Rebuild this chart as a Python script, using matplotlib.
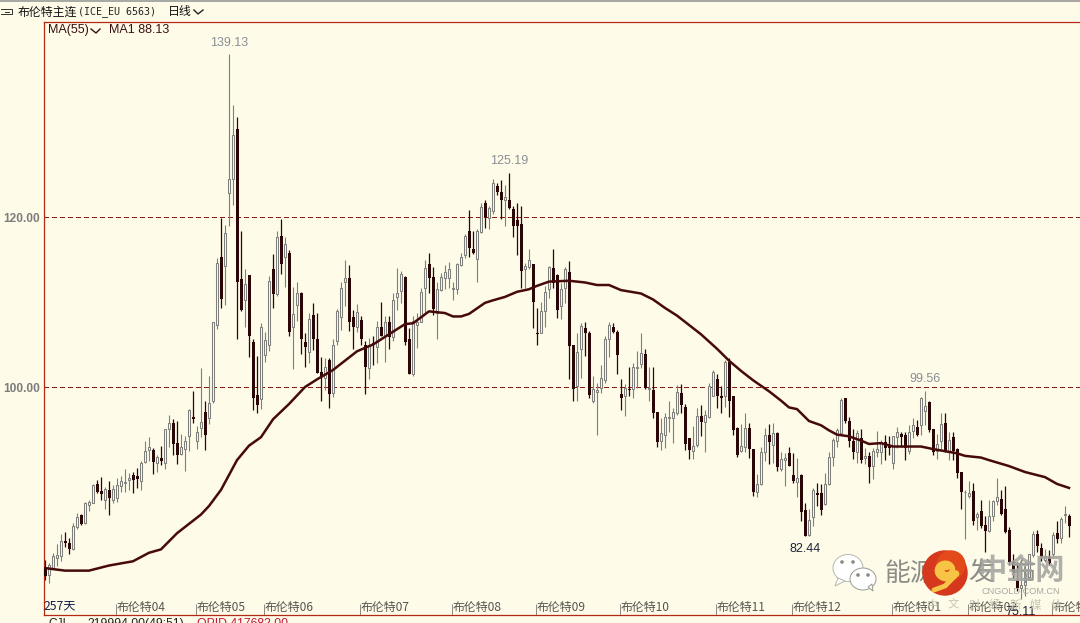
import numpy as np
import matplotlib
matplotlib.use('Agg')
import matplotlib.pyplot as plt
from matplotlib.patches import Circle, Ellipse, Polygon, Rectangle

# daily candles
opens = [
    78.7, 77.9, 78.7, 79.9, 80.1, 81.9, 81.6, 80.9, 83.5, 84.9,
    84.0, 86.1, 86.4, 88.6, 87.8, 86.7, 87.9, 86.7, 86.9, 88.4,
    88.7, 89.1, 89.6, 89.5, 89.0, 91.2, 92.6, 92.6, 91.1, 91.6,
    91.1, 95.1, 95.8, 93.4, 92.1, 92.7, 94.2, 96.5, 93.6, 95.2,
    97.1, 96.3, 98.3, 107.3, 115.3, 114.2, 122.8, 124.5, 130.4, 112.7,
    110.2, 113.2, 105.3, 99.1, 98.6, 103.8, 104.9, 113.9, 110.9, 117.8,
    115.3, 115.8, 107.1, 109.6, 111.1, 105.3, 104.1, 108.5, 105.6, 101.8,
    101.1, 103.2, 99.3, 105.4, 108.2, 112.3, 112.8, 108.2, 107.1, 107.9,
    105.0, 102.2, 105.2, 104.7, 107.1, 106.0, 107.6, 105.9, 110.6, 111.3,
    112.9, 105.6, 101.5, 107.3, 107.7, 111.6, 114.5, 112.9, 108.7, 111.4,
    112.8, 112.8, 111.5, 111.5, 114.3, 115.5, 118.3, 116.2, 115.1, 118.2,
    121.6, 119.9, 120.7, 123.7, 123.0, 122.0, 122.0, 120.9, 119.7, 119.2,
    113.9, 114.1, 114.5, 106.4, 106.3, 109.0, 111.5, 114.0, 113.2, 109.5,
    111.6, 113.5, 104.9, 100.1, 104.5, 106.9, 106.3, 98.4, 99.4, 99.9,
    100.8, 105.7, 107.1, 106.5, 99.2, 98.9, 99.8, 99.8, 102.2, 102.7,
    103.9, 99.8, 99.7, 97.1, 93.6, 94.4, 96.3, 96.3, 97.0, 99.3,
    97.6, 94.0, 92.5, 93.2, 96.6, 95.9, 96.5, 99.0, 100.9, 99.0,
    98.9, 103.0, 98.9, 95.2, 92.5, 92.9, 95.2, 92.7, 87.6, 88.6,
    92.4, 94.3, 93.2, 94.6, 90.4, 91.4, 92.2, 89.6, 88.8, 89.6,
    85.5, 82.6, 84.7, 87.5, 87.5, 86.2, 88.6, 91.8, 93.6, 94.6,
    98.7, 96.0, 93.7, 92.4, 94.0, 91.6, 91.9, 90.7, 92.3, 92.3,
    93.5, 93.2, 91.1, 94.1, 94.5, 94.3, 92.5, 94.8, 95.3, 95.5,
    97.2, 98.2, 95.1, 92.5, 93.6, 95.8, 92.4, 94.1, 92.7, 90.0,
    87.6, 87.2, 87.8, 84.7, 85.4, 83.8, 83.1, 84.8, 86.6, 86.8,
    85.6, 83.2, 79.4, 77.3, 76.4, 76.7, 77.7, 80.2, 82.7, 81.1,
    79.6, 80.0, 80.4, 82.8, 82.2, 84.9, 84.8,
]
highs = [
    79.6, 79.3, 80.5, 81.5, 82.7, 82.9, 82.2, 84.0, 85.2, 85.1,
    86.5, 86.7, 88.6, 89.1, 89.4, 88.2, 88.9, 88.5, 89.3, 89.5,
    90.3, 89.9, 90.0, 90.5, 91.3, 93.7, 94.1, 92.8, 92.0, 93.1,
    95.1, 96.7, 96.2, 96.0, 94.5, 94.2, 97.4, 99.5, 95.4, 102.2,
    98.4, 101.3, 107.7, 115.2, 119.9, 119.1, 139.13, 133.2, 131.8, 118.3,
    113.9, 113.2, 105.6, 103.7, 107.5, 106.5, 113.1, 115.6, 118.3, 119.8,
    117.7, 116.1, 111.8, 112.4, 111.2, 106.3, 108.7, 109.9, 108.7, 103.5,
    103.4, 103.4, 105.7, 109.2, 112.4, 114.9, 114.3, 109.1, 109.8, 108.4,
    105.4, 105.8, 106.0, 107.8, 110.0, 108.3, 108.4, 111.1, 114.0, 113.6,
    113.1, 106.9, 108.3, 108.7, 111.6, 114.9, 115.8, 114.1, 112.4, 113.4,
    114.4, 114.7, 112.4, 114.6, 115.8, 118.0, 120.8, 118.4, 118.6, 121.6,
    122.0, 121.3, 124.5, 124.0, 124.4, 123.8, 125.19, 121.3, 121.6, 121.3,
    114.6, 116.2, 114.5, 109.3, 110.0, 111.9, 114.2, 116.2, 113.3, 112.2,
    114.1, 114.8, 104.9, 106.4, 107.5, 107.6, 106.6, 101.3, 100.5, 102.6,
    106.0, 107.7, 107.5, 106.7, 100.9, 100.3, 102.4, 102.8, 104.2, 106.4,
    104.5, 102.4, 102.4, 97.1, 96.4, 96.9, 98.4, 97.5, 100.2, 100.4,
    98.0, 94.0, 95.4, 97.5, 97.9, 97.3, 100.5, 102.0, 101.5, 100.1,
    103.2, 103.4, 98.9, 95.3, 95.6, 96.9, 95.8, 92.7, 89.8, 93.0,
    95.2, 95.6, 95.8, 94.7, 92.4, 92.2, 93.0, 92.2, 91.6, 89.8,
    86.4, 85.6, 88.1, 88.7, 88.6, 89.9, 92.3, 94.0, 95.2, 98.7,
    98.7, 96.5, 95.1, 94.9, 95.1, 92.8, 92.4, 92.8, 94.8, 93.8,
    94.4, 94.2, 94.2, 95.3, 94.7, 94.7, 95.5, 96.4, 96.1, 98.8,
    99.56, 98.3, 95.1, 94.5, 96.9, 96.9, 94.7, 94.7, 92.8, 90.0,
    87.9, 89.0, 88.7, 85.3, 86.7, 84.8, 86.7, 86.7, 89.3, 87.9,
    88.3, 83.5, 80.4, 79.4, 78.9, 79.5, 80.4, 83.1, 83.2, 81.6,
    81.0, 80.8, 82.9, 84.2, 84.7, 86.0, 85.1,
]
lows = [
    77.3, 76.9, 78.6, 78.9, 79.5, 81.2, 80.3, 80.8, 83.3, 83.8,
    83.9, 85.4, 86.3, 87.5, 86.7, 85.6, 84.9, 86.4, 86.5, 87.7,
    87.6, 87.9, 87.5, 88.1, 87.9, 91.1, 91.3, 89.8, 90.0, 90.8,
    90.4, 93.0, 92.0, 90.9, 92.0, 90.1, 92.5, 95.8, 92.7, 94.1,
    92.6, 95.6, 98.1, 106.8, 109.3, 109.6, 119.0, 121.4, 105.6, 109.0,
    107.1, 103.5, 97.3, 96.9, 97.4, 102.9, 104.2, 109.3, 110.7, 113.3,
    111.8, 106.0, 102.1, 107.8, 103.9, 102.3, 102.8, 104.4, 101.6, 98.3,
    99.6, 97.5, 98.8, 105.0, 106.7, 109.5, 106.6, 104.5, 106.5, 105.0,
    99.2, 100.9, 102.6, 102.8, 106.0, 103.0, 104.5, 105.4, 109.1, 109.9,
    104.9, 101.5, 101.3, 104.6, 107.6, 108.7, 111.1, 108.5, 105.6, 111.3,
    111.5, 111.6, 110.2, 110.9, 114.2, 115.2, 115.3, 115.7, 112.4, 118.1,
    118.7, 118.6, 120.3, 122.6, 119.8, 118.9, 120.9, 117.7, 115.5, 111.6,
    111.6, 113.9, 106.9, 105.0, 106.3, 107.1, 110.5, 111.6, 108.1, 108.0,
    109.9, 101.0, 98.4, 98.4, 101.1, 103.6, 98.7, 98.1, 94.4, 99.3,
    100.5, 103.5, 106.3, 101.5, 97.3, 96.6, 98.9, 98.7, 99.9, 102.2,
    99.8, 98.4, 96.4, 93.0, 92.6, 92.8, 94.7, 93.4, 96.7, 96.9,
    92.6, 91.5, 91.5, 93.0, 94.2, 92.3, 96.4, 98.9, 97.5, 96.9,
    97.7, 96.5, 94.3, 91.8, 92.4, 92.4, 91.6, 87.2, 87.1, 88.5,
    91.3, 90.9, 91.1, 90.1, 90.1, 88.4, 90.7, 88.7, 87.1, 84.2,
    82.44, 82.5, 83.6, 86.0, 84.9, 86.1, 88.5, 90.7, 93.0, 94.4,
    95.8, 92.9, 91.5, 91.1, 91.1, 90.9, 88.7, 89.2, 91.8, 90.9,
    91.4, 92.0, 90.3, 92.8, 93.0, 91.4, 92.1, 94.0, 94.2, 94.4,
    95.5, 94.7, 92.0, 91.5, 92.6, 92.3, 91.4, 91.4, 89.3, 85.6,
    82.1, 87.0, 83.8, 83.2, 83.4, 80.6, 83.0, 84.2, 86.1, 84.9,
    82.8, 79.1, 77.5, 76.0, 75.11, 75.4, 77.4, 80.0, 80.6, 79.5,
    79.4, 79.1, 80.0, 81.6, 81.7, 84.0, 82.4,
]
closes = [
    77.8, 79.1, 80.1, 80.2, 81.9, 81.7, 80.9, 83.7, 84.7, 83.9,
    86.4, 86.5, 88.5, 87.6, 87.4, 88.0, 87.0, 88.0, 88.5, 88.9,
    88.8, 89.3, 89.1, 89.2, 91.1, 92.5, 92.9, 91.2, 91.8, 91.3,
    95.1, 95.8, 93.3, 92.0, 92.9, 93.6, 97.3, 96.2, 94.7, 95.9,
    94.4, 98.1, 107.6, 114.6, 110.4, 118.1, 124.5, 129.6, 112.4, 109.1,
    112.1, 106.0, 98.7, 97.9, 107.1, 105.5, 112.5, 110.9, 117.6, 114.5,
    116.8, 106.5, 108.6, 111.1, 105.6, 104.7, 108.0, 105.6, 101.6, 101.3,
    102.4, 99.2, 105.0, 109.0, 111.7, 112.8, 107.6, 107.1, 108.8, 105.7,
    102.4, 104.9, 105.0, 107.1, 106.0, 107.6, 105.9, 110.2, 111.1, 113.3,
    105.3, 101.5, 107.8, 107.7, 111.2, 114.0, 112.8, 109.2, 111.5, 112.9,
    113.5, 113.9, 111.6, 114.5, 115.3, 117.8, 116.3, 115.8, 118.4, 121.2,
    120.0, 121.1, 124.0, 122.9, 122.0, 122.4, 121.1, 119.0, 119.0, 113.6,
    114.2, 115.0, 110.0, 106.2, 108.9, 111.2, 114.1, 112.2, 109.1, 111.5,
    113.9, 104.8, 99.8, 104.1, 107.2, 106.3, 99.1, 99.8, 99.7, 101.1,
    105.7, 107.3, 106.5, 103.8, 98.7, 99.9, 99.6, 102.4, 102.4, 104.0,
    99.9, 99.9, 97.0, 93.5, 94.6, 96.5, 96.5, 97.1, 99.4, 97.9,
    93.3, 92.6, 93.1, 96.6, 95.9, 96.7, 100.1, 101.8, 98.9, 98.7,
    103.0, 98.4, 94.9, 92.0, 93.1, 95.2, 92.7, 87.6, 88.6, 92.4,
    94.3, 93.5, 94.6, 90.6, 91.5, 91.7, 90.7, 88.9, 89.3, 85.3,
    82.5, 84.4, 87.9, 87.3, 85.5, 88.6, 91.8, 93.8, 94.9, 98.5,
    96.0, 93.7, 92.3, 94.6, 91.4, 91.9, 90.6, 92.5, 92.7, 93.5,
    92.8, 92.8, 94.2, 94.7, 94.1, 92.8, 94.7, 95.5, 94.4, 98.7,
    97.8, 94.9, 92.3, 93.3, 95.7, 92.5, 93.8, 92.5, 89.9, 87.6,
    87.7, 87.5, 84.2, 85.1, 83.6, 83.1, 84.8, 86.6, 87.1, 85.1,
    82.9, 79.4, 78.2, 76.3, 76.7, 78.0, 80.3, 82.7, 81.3, 80.0,
    80.1, 79.3, 82.6, 82.1, 84.5, 85.1, 83.7,
]

# MA(55) line
ma_bars = [0, 5, 11, 16, 22, 26, 29, 33, 39, 41, 44, 48, 51, 54, 57, 61, 65, 68, 72, 78,
           82, 86, 90, 92, 96, 100, 102, 104, 106, 110, 112, 115, 118, 121, 123, 126,
           131, 135, 138, 141, 144, 149, 152, 155, 158, 161, 164, 168, 171, 174, 177,
           181, 184, 186, 188, 191, 194, 196, 198, 201, 204, 206, 209, 212, 219, 222,
           228, 230, 234, 236, 241, 245, 250, 253, 256]
ma_vals = [78.7, 78.4, 78.4, 79.0, 79.5, 80.5, 80.9, 82.8, 85.0, 86.0, 87.9, 91.4, 93.1, 94.1,
           96.2, 98.0, 100.0, 100.9, 102.0, 104.2, 105.0, 106.2, 107.4, 107.5, 108.9, 108.7,
           108.3, 108.3, 108.6, 109.9, 110.2, 110.6, 111.2, 111.5, 111.9, 112.4, 112.5, 112.3,
           112.0, 112.0, 111.4, 111.0, 110.3, 109.3, 108.4, 107.3, 106.2, 104.5, 103.1, 101.9,
           100.8, 99.5, 98.4, 97.6, 97.4, 96.0, 95.5, 94.9, 94.4, 94.2, 93.7, 93.3, 93.4, 93.0,
           93.0, 92.7, 92.2, 91.9, 91.7, 91.4, 90.7, 90.0, 89.4, 88.6, 88.13]

month_bars = [18, 38, 55, 79, 102, 123, 144, 168, 187, 212, 231, 252]
month_labels = ['布伦特04', '布伦特05', '布伦特06', '布伦特07', '布伦特08', '布伦特09',
                '布伦特10', '布伦特11', '布伦特12', '布伦特01', '布伦特02', '布伦特03']

peak_bars = [46, 116, 220, 190, 244]
peak_vals = [139.13, 125.19, 99.56, 82.44, 75.11]

BG = '#fefbe9'
RED = '#b32a14'
GRAY = '#7e7e7a'
DARK = '#2b0606'
CJK = ['Noto Sans CJK SC', 'DejaVu Sans']

plt.rcParams['font.family'] = CJK

fig = plt.figure(figsize=(10.8, 6.23), dpi=100, facecolor=BG)
ax = fig.add_axes([43.5 / 1080, 1 - 615 / 623, 1 - 43.5 / 1080, (615 - 22) / 623], facecolor=BG)

opens = np.array(opens)
highs = np.array(highs)
lows = np.array(lows)
closes = np.array(closes)
bars = np.arange(len(opens))
up = closes >= opens

ax.axhline(120, color='#8b1a14', lw=0.75, dashes=(4, 3), zorder=1, antialiased=False)
ax.axhline(100, color='#8b1a14', lw=0.75, dashes=(4, 3), zorder=1, antialiased=False)

# wicks first so the hollow bodies cover them
ax.vlines(bars[up], lows[up], highs[up], color=GRAY, lw=0.8, zorder=2)
ax.vlines(bars[~up], lows[~up], highs[~up], color=DARK, lw=0.9, zorder=2)
ax.bar(bars[up], (closes - opens)[up], bottom=opens[up], width=0.5,
       facecolor=BG, edgecolor=GRAY, linewidth=0.75, zorder=3)
ax.bar(bars[~up], (opens - closes)[~up], bottom=closes[~up], width=0.75,
       facecolor=DARK, edgecolor='none', zorder=3)

ax.plot(ma_bars, ma_vals, color='#470a0a', lw=1.8, zorder=4)

ax.set_xlim(-0.375, 258.75)
ax.set_ylim(73.18, 142.94)

ax.set_yticks([100, 120])
ax.set_yticklabels(['100.00', '120.00'], color='#7d7d7d', fontweight='bold', fontsize=8.6,
                   family='Liberation Sans')
ax.tick_params(axis='y', length=0, pad=2.5)
ax.set_xticks([b - 0.25 for b in month_bars])
ax.set_xticklabels([])
ax.tick_params(axis='x', direction='in', length=8, width=0.7, color='#8a8a80')

for b, lab in zip(month_bars, month_labels):
    ax.text(b, 0.0135, lab, transform=ax.get_xaxis_transform(), ha='left', va='center',
            fontsize=8.6, color='#55554f', zorder=5)

for s in ['top', 'left', 'bottom']:
    ax.spines[s].set_color(RED)
    ax.spines[s].set_linewidth(0.9)
ax.spines['right'].set_visible(False)

# extreme labels
peak_cols = ['#8a8f96', '#8a8f96', '#8a8f96', '#1c2338', '#1c2338']
peak_offs = [(0, 4), (0, 4), (0, 4), (0, -5), (0, -5)]
for b, v, col, off in zip(peak_bars, peak_vals, peak_cols, peak_offs):
    ax.annotate('%.2f' % v, (b, v), xytext=off, textcoords='offset points', ha='center',
                va='bottom' if off[1] > 0 else 'top', fontsize=9, color=col,
                family='Liberation Sans', zorder=5)

# overlay in pixel units for the window chrome and the watermark
ov = fig.add_axes([0, 0, 1, 1], facecolor='none', zorder=10)
ov.set_xlim(0, 1080)
ov.set_ylim(623, 0)
ov.axis('off')

ov.add_patch(Rectangle((0, 0), 1080, 2, color='#a9a9a5', lw=0))
ov.plot([1, 12, 12, 1], [9, 9, 14, 14], color='#333333', lw=0.7)
ov.plot([5, 9], [11.5, 11.5], color='#333333', lw=0.7)
ov.text(18, 12, '布伦特主连', fontsize=8.6, color='#111111', va='center')
ov.text(78, 12, '(ICE_EU 6563)', fontsize=7.2, color='#222222', va='center', family='DejaVu Sans Mono')
ov.text(168, 12, '日线', fontsize=8.6, color='#111111', va='center')
ov.plot([194, 198, 203], [10, 14, 10], color='#222222', lw=1)

ov.text(48, 30, 'MA(55)', fontsize=9, color='#3b1014', va='center', family='Liberation Sans')
ov.plot([91, 96, 100], [29, 33, 29], color='#3b1014', lw=1)
ov.text(109, 30, 'MA1 88.13', fontsize=9, color='#3b1014', va='center', family='Liberation Sans')

ov.text(44, 606, '257天', fontsize=8.8, color='#14204a', va='center')
ov.text(48, 618, 'CJL', fontsize=8.6, color='#222222', va='top', family='Liberation Sans')
ov.text(87, 618, '219994.00(49:51)', fontsize=8.8, color='#222222', va='top', family='Liberation Sans')
ov.text(197, 618, 'OPID 417682.00', fontsize=8.8, color='#c4183a', va='top', family='Liberation Sans')

# watermark: wechat bubbles
ov.add_patch(Ellipse((848, 568), 30, 27, fc='#ffffff', ec='#b8b8b0', lw=0.7, zorder=6))
ov.add_patch(Polygon([[838, 578], [835, 586], [845, 581]], fc='#ffffff', ec='#b8b8b0', lw=0.7, zorder=6))
ov.add_patch(Ellipse((863, 579), 26, 22, fc='#ffffff', ec='#9a9a94', lw=0.7, zorder=7))
ov.add_patch(Polygon([[868, 587], [873, 591], [872, 584]], fc='#ffffff', ec='#9a9a94', lw=0.7, zorder=7))
for ex, ey in [(842, 562), (853, 562), (858, 575), (868, 575)]:
    ov.add_patch(Circle((ex, ey), 1.1, color='#8a8a84', zorder=8))

ov.text(885, 574, '能源', fontsize=18.5, color='#8c8c88', va='center', fontweight='light', zorder=6)
ov.text(968, 574, '发', fontsize=18.5, color='#8c8c88', va='center', fontweight='light', zorder=6)
ov.text(1010, 574, '布', fontsize=18.5, color='#8c8c88', va='center', fontweight='light', zorder=6)
ov.text(977, 570, '中金网', fontsize=21, color='#a2a29e', alpha=0.85, va='center', fontweight='bold', zorder=7)
ov.text(1021, 591, 'CNGOLD.COM.CN', fontsize=6.6, color='#a8a8a2', ha='center', va='center',
        family='Liberation Sans', zorder=7)
for k, ch in enumerate('中文财经新媒体'):
    ov.text(933 + 20.5 * k, 605, ch, fontsize=8.2, color='#c6c4b0', ha='center', va='center', zorder=7)

# watermark: round logo
ov.add_patch(Circle((945, 573), 22, color='#d5381c', zorder=8))
ov.add_patch(Circle((951, 565), 14, color='#e34a1a', zorder=8))
swirl_t = np.linspace(0.4, 3.9, 40) * np.pi
swirl_r = 2.2 * swirl_t / np.pi + 2
ov.plot(946 + swirl_r * np.cos(swirl_t), 570 - swirl_r * np.sin(swirl_t) * 0.9,
        color='#f8c445', lw=4, solid_capstyle='round', zorder=9)
ov.plot([934, 945, 957], [590, 586, 574], color='#f8c445', lw=3.5, solid_capstyle='round', zorder=9)

fig.savefig('out.png', dpi=100, facecolor=BG)
